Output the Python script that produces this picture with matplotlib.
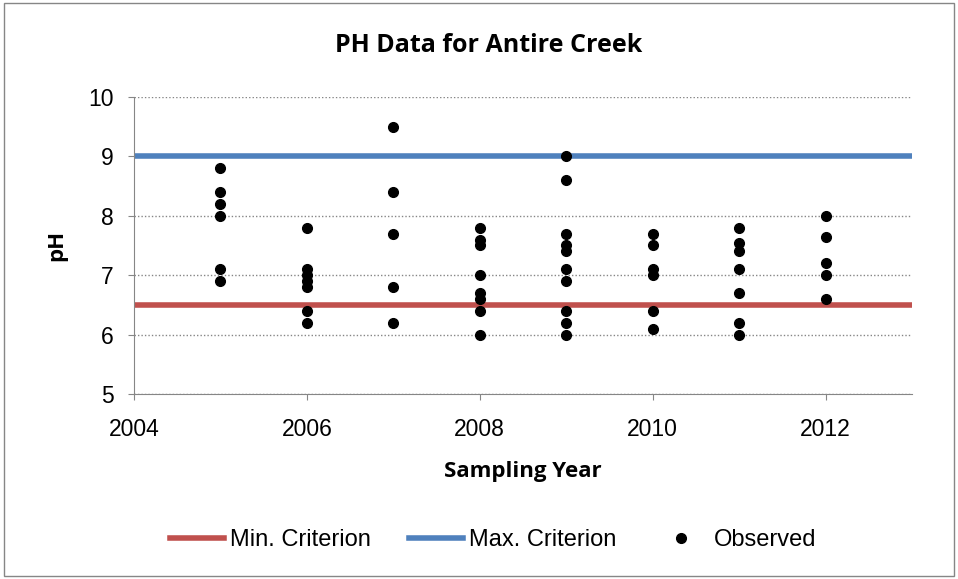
import matplotlib.pyplot as plt
from matplotlib.patches import Rectangle

# observed pH per sampling year
years = [2005, 2006, 2007, 2008, 2009, 2010, 2011, 2012]
observed = [
    [8.8, 8.4, 8.2, 8.0, 7.1, 6.9],
    [7.8, 7.1, 7.0, 6.9, 6.8, 6.4, 6.2],
    [9.5, 8.4, 7.7, 6.8, 6.2],
    [7.8, 7.6, 7.5, 7.0, 6.7, 6.6, 6.4, 6.0],
    [9.0, 8.6, 7.7, 7.5, 7.4, 7.1, 6.9, 6.4, 6.2, 6.0],
    [7.7, 7.5, 7.1, 7.0, 6.4, 6.1],
    [7.8, 7.55, 7.4, 7.1, 6.7, 6.2, 6.0],
    [8.0, 7.65, 7.2, 7.0, 6.6],
]
crit_x = [2004, 2013]
min_crit = 6.5
max_crit = 9.0

xs = [y for y, vals in zip(years, observed) for _ in vals]
ys = [v for vals in observed for v in vals]

plt.rcParams['font.family'] = ['Liberation Sans', 'DejaVu Sans']
bold_font = ['Open Sans', 'DejaVu Sans']

fig = plt.figure(figsize=(9.58, 5.79), dpi=100)
ax = fig.add_axes([0.1399, 0.3195, 0.8121, 0.513])

ax.plot(crit_x, [min_crit, min_crit], color='#C0504D', lw=4, label='Min. Criterion', zorder=2)
ax.plot(crit_x, [max_crit, max_crit], color='#4F81BD', lw=4, label='Max. Criterion', zorder=2)
ax.plot(xs, ys, 'o', color='black', ms=7, ls='none', label='Observed', zorder=3)

ax.set_xlim(2004, 2013)
ax.set_ylim(5, 10)
ax.set_xticks([2004, 2006, 2008, 2010, 2012])
ax.set_yticks([5, 6, 7, 8, 9, 10])
ax.tick_params(labelsize=16.5, color='#868686', length=4.5)
ax.tick_params(axis='x', pad=13)
ax.tick_params(axis='y', pad=10)
ax.grid(axis='y', ls=(0, (1, 1.5)), color='#868686', lw=1)
ax.set_axisbelow(True)
for s in ['top', 'right']:
    ax.spines[s].set_visible(False)
for s in ['left', 'bottom']:
    ax.spines[s].set_color('#868686')

ax.set_xlabel('Sampling Year', fontsize=16, fontweight='bold', family=bold_font, labelpad=14)
ax.set_ylabel('pH', fontsize=16, fontweight='bold', family=bold_font, labelpad=15)
fig.text(0.510, 0.922, 'PH Data for Antire Creek', ha='center', va='center',
         fontsize=18, fontweight='bold', family=bold_font)

fig.legend(loc='center', bbox_to_anchor=(0.515, 0.067), ncol=3, frameon=False,
           fontsize=17, handlelength=2.3, handletextpad=0.25, columnspacing=1.6)

fig.patches.append(Rectangle((0.004, 0.006), 0.992, 0.988, transform=fig.transFigure,
                             fill=False, edgecolor='#868686', lw=1))

fig.savefig('out.png', dpi=100)
